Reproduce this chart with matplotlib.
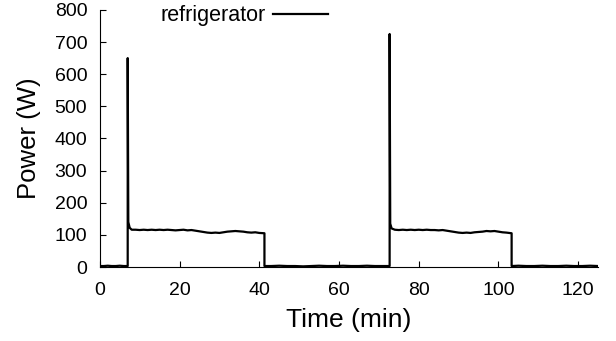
import matplotlib.pyplot as plt

plt.rcParams['font.family'] = ['Liberation Sans', 'DejaVu Sans']

# first idle period
t_off0 = [0, 1, 2, 3, 4, 5, 6, 7.0]
p_off0 = [3, 3, 4, 3, 3, 4, 3, 3]

# first compressor cycle
t_on1 = [7.0, 7.15, 7.5, 8, 9, 10, 11, 12, 13, 14, 15, 16, 17, 18, 19, 20, 21, 22, 23, 24,
         25, 26, 27, 28, 29, 30, 31, 32, 33, 34, 35, 36, 37, 38, 39, 40, 41.3]
p_on1 = [650, 140, 122, 116, 116, 115, 116, 115, 116, 115, 116, 115, 116, 115, 114, 115, 116, 114, 115, 113,
         111, 109, 107, 106, 107, 106, 108, 110, 111, 112, 111, 110, 108, 107, 108, 106, 105]

# second idle period
t_off1 = [41.3, 43, 45, 47, 49, 51, 53, 55, 57, 59, 61, 63, 65, 67, 69, 71, 72.7]
p_off1 = [3, 3, 4, 3, 3, 2, 3, 4, 3, 3, 4, 3, 3, 4, 3, 3, 3]

# second compressor cycle
t_on2 = [72.7, 72.85, 73.2, 74, 75, 76, 77, 78, 79, 80, 81, 82, 83, 84, 85, 86, 87, 88, 89, 90,
         91, 92, 93, 94, 95, 96, 97, 98, 99, 100, 101, 102, 103.3]
p_on2 = [725, 135, 120, 116, 115, 116, 115, 116, 115, 116, 115, 116, 115, 115, 114, 115, 113, 111, 109, 107,
         106, 107, 106, 108, 109, 110, 112, 111, 112, 110, 108, 107, 105]

# last idle period
t_off2 = [103.3, 105, 107, 109, 111, 113, 115, 117, 119, 121, 123, 125]
p_off2 = [3, 4, 3, 3, 4, 3, 3, 4, 3, 3, 4, 3]

t = t_off0 + t_on1 + t_off1 + t_on2 + t_off2
p = p_off0 + p_on1 + p_off1 + p_on2 + p_off2

fig = plt.figure(figsize=(6.16, 3.41), dpi=100)
ax = fig.add_axes([0.162, 0.217, 0.809, 0.754])
ax.plot(t, p, color='black', lw=1.6, label='refrigerator')

ax.set_xlim(0, 125)
ax.set_ylim(0, 800)
ax.set_xticks(range(0, 121, 20))
ax.set_yticks(range(0, 801, 100))
ax.tick_params(direction='in', labelsize=14, length=4, width=0.8)
ax.tick_params(axis='x', pad=10.5)
ax.tick_params(axis='y', pad=9)
ax.spines['top'].set_visible(False)
ax.spines['right'].set_visible(False)
ax.set_xlabel('Time (min)', fontsize=19, labelpad=7)
ax.set_ylabel('Power (W)', fontsize=18.5, labelpad=10)
ax.legend(loc='center left', bbox_to_anchor=(161 / 616, 1 - 16 / 341),
          bbox_transform=fig.transFigure, frameon=False, borderpad=0,
          borderaxespad=0, markerfirst=False, fontsize=15.5,
          handlelength=2.55, handletextpad=0.3)

fig.savefig('out.png', dpi=100)
